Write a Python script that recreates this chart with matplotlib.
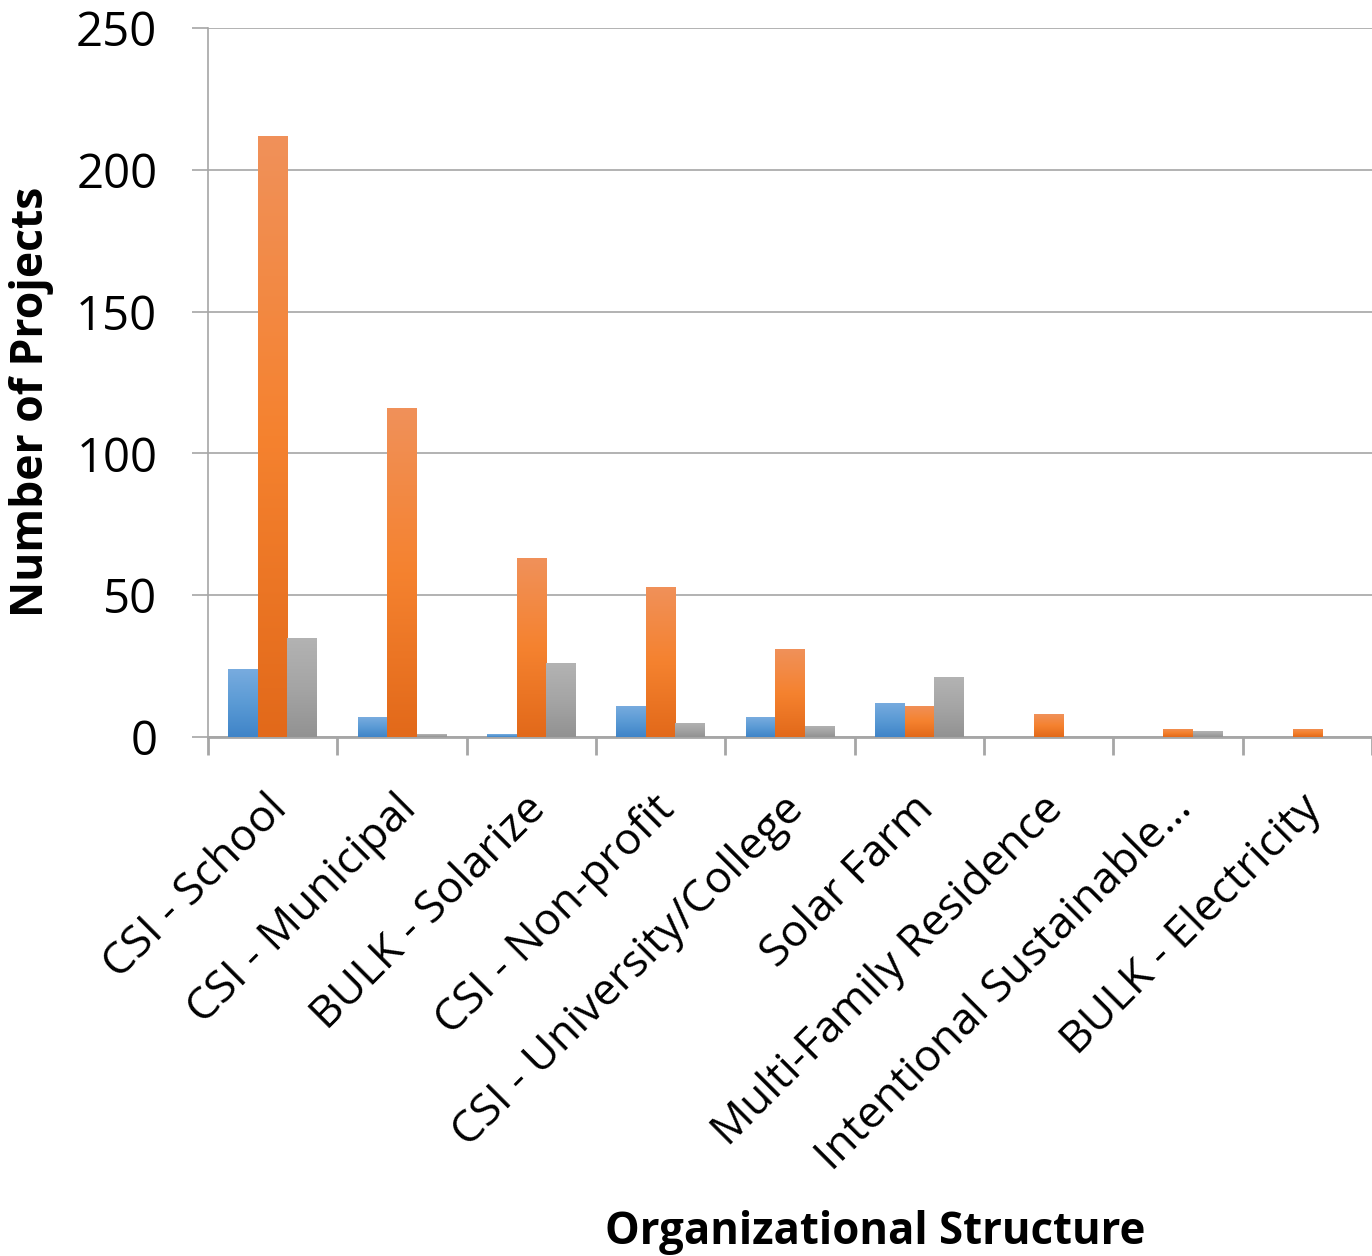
import numpy as np
import matplotlib.pyplot as plt
import matplotlib.transforms as mtransforms
from matplotlib.colors import LinearSegmentedColormap

categories = ['CSI - School', 'CSI - Municipal', 'BULK - Solarize', 'CSI - Non-profit',
              'CSI - University/College', 'Solar Farm', 'Multi-Family Residence',
              'Intentional Sustainable…', 'BULK - Electricity']
series_blue = [24, 7, 1, 11, 7, 12, 0, 0, 0]
series_orange = [212, 116, 63, 53, 31, 11, 8, 3, 3]
series_gray = [35, 1, 26, 5, 4, 21, 0, 2, 0]

# gradient stops (bottom -> top)
grads = [
    ['#3f84c8', '#5b9bd5', '#79acdf'],
    ['#e2691a', '#f5822f', '#f0915a'],
    ['#929292', '#a5a5a5', '#b3b3b3'],
]

plt.rcParams['font.family'] = ['Open Sans', 'DejaVu Sans']

fig = plt.figure(figsize=(13.72, 12.56), dpi=100)
ax = fig.add_axes([0.1516, 0.4132, 0.8484, 0.5645])

x = np.arange(len(categories))
w = 0.228
grad = np.linspace(0, 1, 256).reshape(-1, 1)
for i, vals in enumerate([series_blue, series_orange, series_gray]):
    cmap = LinearSegmentedColormap.from_list('g%d' % i, grads[i])
    bars = ax.bar(x + (i - 1) * w, vals, w, color=grads[i][1], zorder=2)
    for b in bars:
        if b.get_height() <= 0:
            continue
        x0, y0 = b.get_x(), b.get_y()
        im = ax.imshow(grad, cmap=cmap, origin='lower', aspect='auto',
                       extent=[x0, x0 + b.get_width(), y0, y0 + b.get_height()],
                       zorder=3)
        im.set_clip_path(b)

ax.set_xlim(-0.5, len(categories) - 0.5)
ax.set_ylim(0, 250)
ax.set_yticks(range(0, 251, 50))
ax.yaxis.grid(True, color='#a6a6a6', linewidth=1.2, zorder=0)
ax.set_axisbelow(True)

for s in ['top', 'right']:
    ax.spines[s].set_visible(False)
ax.spines['left'].set_color('#a6a6a6')
ax.spines['left'].set_linewidth(1.2)
ax.spines['bottom'].set_color('#a6a6a6')
ax.spines['bottom'].set_linewidth(2)

ax.tick_params(axis='y', labelsize=34, length=11.5, color='#a6a6a6', width=1.2, pad=25)
ax.set_xticks(x)
ax.set_xticklabels(categories, rotation=45, ha='right', rotation_mode='anchor', fontsize=32)
ax.tick_params(axis='x', which='major', length=0, pad=36)
ax.set_xticks(np.arange(-0.5, len(categories), 1), minor=True)
ax.tick_params(axis='x', which='minor', length=13, color='#a6a6a6', width=2)
shift = mtransforms.ScaledTranslation(-0.08, 0, fig.dpi_scale_trans)
for lbl in ax.get_xticklabels():
    lbl.set_transform(lbl.get_transform() + shift)

fig.text(0.0233, 0.68, 'Number of Projects', rotation=90, fontsize=32,
         fontweight='bold', ha='center', va='center')
fig.text(0.638, 0.019, 'Organizational Structure', fontsize=31.5,
         fontweight='bold', ha='center', va='center')

fig.savefig('out.png', dpi=100)
